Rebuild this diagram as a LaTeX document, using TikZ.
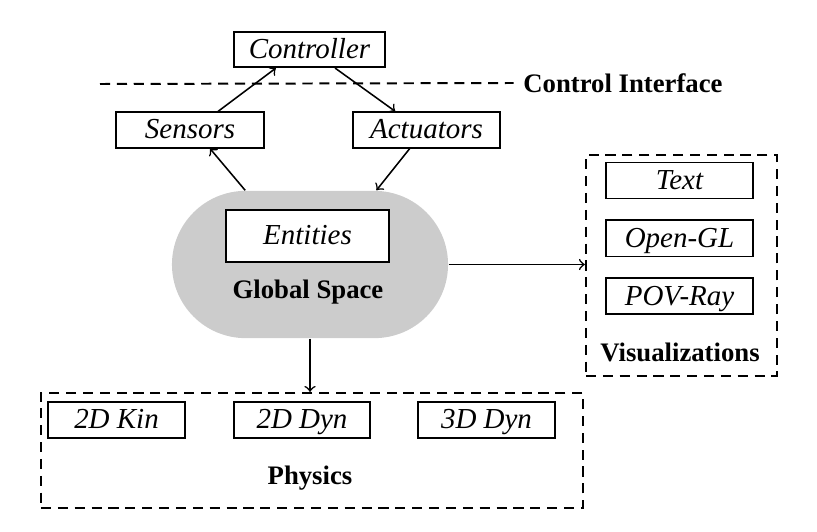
\documentclass[tikz,border=0pt]{standalone}
\usepackage{fontspec}
\setmainfont{Liberation Serif}
\usetikzlibrary{positioning}
\tikzset{
x=0.0125cm, y=-0.0125cm, % one unit is one pixel of the layout
>=to, % open arrow heads
node distance=0.25cm, % gap between stacked modules
module/.style={draw, fill=white, line width=0.7pt, font=\fontsize{10.3}{12}\selectfont\itshape, text height=1.6ex, text depth=0.25ex, minimum width=1.84cm, minimum height=0.44cm, inner sep=1pt}, % a plain box
group/.style={draw, line width=0.7pt, dash pattern=on 3.6pt off 2.4pt}, % dashed container
title/.style={font=\fontsize{9.5}{11}\selectfont\bfseries}, % bold label
link/.style={->, line width=0.55pt}, % connector
}
\begin{document}
\begin{tikzpicture}
            \useasboundingbox (0,0) rectangle (817,532);

            % control loop
            \node[module, minimum width=1.89cm] (controller) at (309.5,49.5) {Controller};
            \node[module] (sensors) at (190,130) {Sensors};
            \node[module] (actuators) at (426.5,130) {Actuators};
            \node[title] (ci) at (623,83) {Control Interface};
            \coordinate (ci start) at (100,84);
            \draw[group] (ci start) -- (ci.west);

            % global space
            \node[fill=black!20, rounded corners=0.92cm, minimum width=3.45cm, minimum height=1.84cm] (global) at (310,264.5) {};
            \node[module, minimum width=2.04cm, minimum height=0.65cm] (entities) at (307.5,236) {Entities};
            \node[title] (globallabel) at (308,292) {Global Space};

            % visualizations
            \node[group, minimum width=2.39cm, minimum height=2.76cm] (vis) at (681.5,265.5) {};
            \node[module, minimum height=0.45cm] (text) at (679.5,180.5) {Text};
            \node[module, minimum height=0.45cm, below=of text] (opengl) {Open-GL};
            \node[module, minimum height=0.45cm, below=of opengl] (povray) {POV-Ray};
            \node[title] (vislabel) at (680,352) {Visualizations};

            % physics
            \node[group, minimum width=6.775cm, minimum height=1.44cm] (physics) at (312,450.5) {};
            \node[module, minimum width=1.7cm] (kin2) at (116.5,420) {2D Kin};
            \node[module, minimum width=1.7cm] (dyn2) at (302,420) {2D Dyn};
            \node[module, minimum width=1.7cm] (dyn3) at (486.5,420) {3D Dyn};
            \node[title] (physlabel) at (310,478) {Physics};

            \draw[link] ([xshift=0.35cm]sensors.north) -- ([xshift=-0.42cm]controller.south);
            \draw[link] ([xshift=0.32cm]controller.south) -- ([xshift=-0.39cm]actuators.north);
            \draw[link] ([xshift=-0.81cm]global.north) -- ([xshift=0.25cm]sensors.south);
            \draw[link] ([xshift=-0.21cm]actuators.south) -- ([xshift=0.83cm]global.north);
            \draw[link] (global.east) -- (global.east -| vis.west);
            \draw[link] (global.south) -- (global.south |- physics.north);
\end{tikzpicture}
\end{document}
